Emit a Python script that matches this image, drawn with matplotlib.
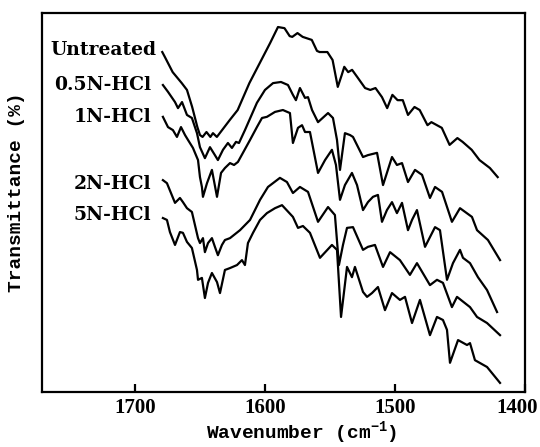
import matplotlib
matplotlib.use("Agg")
import matplotlib.pyplot as plt
import matplotlib.transforms as mtransforms

# ---------------- data (wavenumber in cm^-1, transmittance in arbitrary %) ----------------
labels = ["Untreated", "0.5N-HCl", "1N-HCl", "2N-HCl", "5N-HCl"]

wn_untreated = [1679, 1677, 1671, 1664, 1660, 1656, 1652, 1650, 1648, 1645,
                1642, 1640, 1637, 1633, 1627, 1621, 1612, 1604, 1596, 1590,
                1585, 1581, 1579, 1575, 1571, 1564, 1560, 1558, 1552, 1548,
                1544, 1541, 1539, 1536, 1533, 1529, 1523, 1519, 1515, 1510,
                1506, 1502, 1498, 1494, 1490, 1485, 1481, 1475, 1472, 1464,
                1458, 1452, 1448, 1441, 1435, 1427, 1421]
t_untreated = [89.7, 88.4, 84.4, 81.5, 79.7, 75.2, 69.9, 67.8, 67.3, 68.6,
               67.3, 68.3, 67.3, 69.1, 71.8, 74.4, 81.5, 86.8, 92.1, 96.3,
               96.0, 93.9, 93.7, 94.7, 93.7, 92.9, 90.0, 89.7, 89.7, 87.6,
               80.5, 83.6, 85.8, 84.4, 85.0, 83.1, 80.2, 79.7, 80.2, 77.8,
               74.9, 78.4, 77.0, 77.0, 73.1, 75.2, 74.4, 70.4, 71.2, 69.7,
               65.2, 67.0, 66.0, 63.9, 61.2, 59.1, 56.7]

wn_05n = [1678.5, 1674.6, 1669.2, 1666.9, 1663.8, 1660.0, 1656.2, 1652.3, 1650.0, 1646.2,
          1642.3, 1638.5, 1636.2, 1632.3, 1628.5, 1625.4, 1622.3, 1620.0, 1615.4, 1606.2,
          1600.0, 1593.8, 1587.7, 1582.3, 1578.5, 1576.2, 1573.1, 1569.2, 1566.9, 1563.8,
          1559.2, 1551.5, 1547.7, 1544.6, 1542.3, 1538.5, 1534.6, 1532.3, 1524.6, 1520.8,
          1513.8, 1509.2, 1502.3, 1498.5, 1494.6, 1490.0, 1484.6, 1479.2, 1473.1, 1469.2,
          1463.8, 1456.2, 1450.0, 1440.8, 1436.9, 1428.5, 1419.2]
t_05n = [81.0, 79.2, 76.5, 74.9, 76.5, 73.1, 72.3, 68.3, 64.6, 61.7,
         64.6, 62.5, 61.2, 63.9, 65.7, 64.4, 66.0, 65.7, 69.1, 76.3,
         79.7, 81.5, 81.8, 81.0, 78.4, 77.0, 80.2, 77.6, 77.8, 74.4,
         71.2, 73.6, 72.3, 66.5, 58.6, 68.3, 67.8, 67.3, 62.0, 62.5,
         63.1, 54.6, 62.0, 59.9, 60.4, 55.4, 58.6, 57.3, 51.2, 54.1,
         52.8, 44.9, 48.5, 46.2, 42.7, 40.1, 34.8]

wn_1n = [1678.5, 1674.6, 1670.8, 1667.7, 1664.6, 1661.5, 1659.2, 1655.4, 1651.5, 1650.0,
         1648.5, 1647.7, 1644.6, 1640.8, 1636.9, 1633.8, 1630.8, 1626.9, 1623.8, 1620.8,
         1611.5, 1606.2, 1602.3, 1598.5, 1592.3, 1586.2, 1580.8, 1578.5, 1574.6, 1571.5,
         1569.2, 1565.4, 1559.2, 1553.8, 1548.5, 1545.4, 1542.3, 1538.5, 1533.1, 1529.2,
         1524.6, 1520.8, 1516.9, 1513.1, 1510.0, 1506.2, 1502.3, 1498.5, 1494.6, 1490.0,
         1486.9, 1483.1, 1476.9, 1469.2, 1465.4, 1460.0, 1455.4, 1450.0, 1447.7, 1442.3,
         1436.2, 1429.2, 1421.5]
t_1n = [72.6, 69.9, 69.1, 67.3, 69.9, 67.8, 66.5, 64.4, 61.2, 56.7,
        54.1, 51.5, 55.1, 58.6, 51.5, 57.8, 59.1, 60.4, 59.9, 60.7,
        66.5, 69.9, 72.3, 72.6, 73.9, 74.4, 73.6, 65.7, 69.7, 70.4,
        68.6, 68.6, 57.8, 61.2, 63.9, 59.9, 50.7, 54.6, 57.8, 54.6,
        48.0, 50.1, 51.5, 52.0, 44.9, 48.0, 50.1, 47.2, 49.9, 42.7,
        45.4, 48.0, 38.3, 43.5, 42.7, 29.6, 34.0, 37.5, 35.4, 34.0,
        30.3, 26.9, 21.1]

wn_2n = [1678.5, 1675.4, 1669.2, 1665.4, 1663.1, 1660.0, 1656.2, 1651.5, 1650.0, 1647.7,
         1646.2, 1643.8, 1640.8, 1638.5, 1636.2, 1633.1, 1630.8, 1626.9, 1619.2, 1611.5,
         1603.8, 1597.7, 1588.5, 1583.1, 1578.5, 1573.1, 1566.9, 1559.2, 1551.5, 1546.2,
         1543.1, 1540.0, 1536.9, 1532.3, 1524.6, 1520.8, 1515.4, 1509.2, 1503.8, 1496.2,
         1488.5, 1483.1, 1473.1, 1467.7, 1463.1, 1456.2, 1452.3, 1442.3, 1436.9, 1429.2,
         1419.2]
t_2n = [55.9, 55.1, 49.9, 51.2, 50.1, 48.5, 47.5, 40.6, 39.3, 40.6,
        36.9, 39.3, 40.6, 38.3, 36.1, 38.8, 40.1, 40.6, 42.7, 45.4,
        50.7, 54.1, 56.5, 55.4, 52.5, 54.1, 52.8, 44.9, 48.8, 46.7,
        33.5, 38.8, 43.3, 43.5, 37.5, 38.3, 38.8, 33.0, 36.9, 34.8,
        30.9, 34.0, 28.2, 29.6, 28.8, 22.4, 25.1, 22.4, 19.8, 18.2,
        15.0]

wn_5n = [1678.5, 1675.4, 1673.1, 1669.2, 1665.4, 1663.1, 1660.0, 1656.2, 1652.3, 1651.5,
         1648.5, 1646.2, 1643.8, 1640.8, 1636.9, 1634.6, 1630.8, 1626.9, 1621.5, 1617.7,
         1615.4, 1613.1, 1609.2, 1603.8, 1598.5, 1592.3, 1586.9, 1578.5, 1574.6, 1570.8,
         1565.4, 1557.7, 1548.5, 1544.6, 1541.5, 1536.9, 1533.1, 1530.8, 1524.6, 1521.5,
         1517.7, 1513.1, 1507.7, 1502.3, 1496.2, 1492.3, 1486.9, 1480.8, 1473.1, 1467.7,
         1463.1, 1460.0, 1457.7, 1451.5, 1444.6, 1442.3, 1438.5, 1429.2, 1419.2]
t_5n = [45.9, 45.4, 42.2, 38.8, 42.2, 42.0, 39.6, 38.0, 32.2, 29.6,
        30.1, 24.8, 28.8, 31.4, 29.0, 26.1, 32.2, 32.7, 33.5, 34.8,
        33.5, 39.3, 42.0, 45.4, 47.2, 48.5, 49.3, 46.2, 43.3, 43.8,
        42.0, 35.4, 38.8, 37.5, 19.8, 33.0, 30.3, 33.0, 26.4, 25.1,
        26.1, 27.7, 21.6, 26.1, 24.3, 25.1, 18.2, 24.3, 15.0, 19.8,
        19.0, 16.4, 7.7, 13.7, 12.4, 12.9, 8.4, 6.6, 2.4]

x_ticks = [1700, 1600, 1500, 1400]
x_tick_labels = ["1700", "1600", "1500", "1400"]

# label anchor points (wavenumber, transmittance) -- text sits left of each curve start
label_wn = [1683.5, 1687.5, 1687.5, 1687.5, 1687.5]
label_t = [90.2, 81.0, 72.6, 54.9, 46.7]

series_wn = [wn_untreated, wn_05n, wn_1n, wn_2n, wn_5n]
series_t = [t_untreated, t_05n, t_1n, t_2n, t_5n]

# ---------------- figure ----------------
plt.rcParams['mathtext.fontset'] = 'custom'
plt.rcParams['mathtext.rm'] = 'Liberation Mono:bold'

fig = plt.figure(figsize=(5.4, 4.47), dpi=100)
ax = fig.add_axes([42 / 540, 1 - 392 / 447, 483 / 540, 379 / 447])

for wn, t in zip(series_wn, series_t):
    ax.plot(wn, t, color="black", lw=1.6, solid_joinstyle="round")

for lab, lx, ly in zip(labels, label_wn, label_t):
    ax.text(lx, ly, lab, ha="right", va="center", fontsize=13.5,
            family="DejaVu Serif", fontweight="bold", color="black")

ax.set_xlim(1771.5, 1400)
ax.set_ylim(0, 100)
ax.set_xticks(x_ticks)
ax.set_xticklabels(x_tick_labels, family="Liberation Serif", fontweight="bold", fontsize=15)
ax.set_yticks([])
ax.tick_params(axis="x", direction="in", length=6, width=1.6, pad=4, top=False)

# the last tick label sits a little left of its tick so it stays inside the figure
last = ax.get_xticklabels()[-1]
last.set_transform(last.get_transform() +
                   mtransforms.ScaledTranslation(-8 / 100, 0, fig.dpi_scale_trans))

for sp in ax.spines.values():
    sp.set_linewidth(1.6)
    sp.set_color("black")

ax.set_xlabel(r"Wavenumber (cm$^{\mathregular{-1}}$)", family="Liberation Mono",
              fontweight="bold", fontsize=14, va="center")
ax.xaxis.set_label_coords((302 - 42) / 483, -(433 - 392) / 379)
ax.set_ylabel("Transmittance (%)", family="Liberation Mono", fontweight="bold",
              fontsize=14, va="center", ha="center")
ax.yaxis.set_label_coords((17 - 42) / 483, (392 - 192) / 379)

fig.savefig("out.png", dpi=100)
